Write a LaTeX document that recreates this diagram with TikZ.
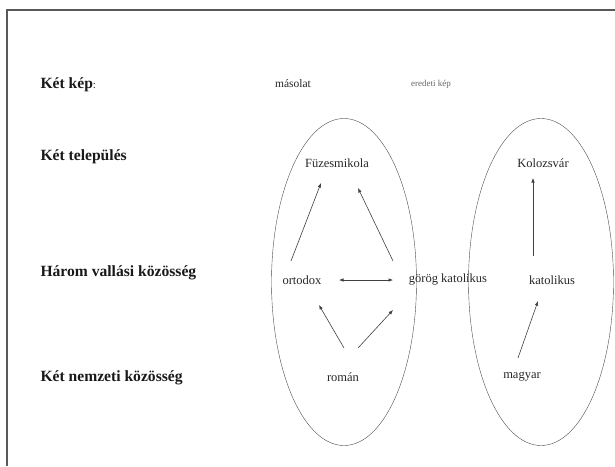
\documentclass[tikz,border=0pt]{standalone}
\usepackage{fontspec}
\setmainfont{Liberation Serif}
\usetikzlibrary{arrows.meta, shapes.geometric}

\begin{document}
\begin{tikzpicture}[
  x=1pt, y=-1pt,
  every node/.style = {font=\fontsize{12.5}{14}\selectfont, text=black!85},
  rowlbl/.style = {font=\fontsize{15.6}{18}\selectfont\bfseries, anchor=west, text=black!90},
  item/.style = {inner sep=1pt},
  oval/.style = {draw=black!70, ellipse, minimum width=145pt, minimum height=327pt, inner sep=0pt},
  arr/.style = {->, black!75, line width=0.6pt},
  >={Latex[length=4.5pt, width=3.5pt]}
]
  \useasboundingbox (0,0) rectangle (615,466);
  \draw[black!65, line width=1.6pt] (7,466) -- (7,10) -- (615,10);

  % row labels
  \node[rowlbl] (rkep) at (37,85) {Két kép\textmd{\fontsize{11}{12}\selectfont :}};
  \node[rowlbl] (rtel) at (37,157) {Két település};
  \node[rowlbl] (rval) at (37,273) {Három vallási közösség};
  \node[rowlbl] (rnem) at (37,378) {Két nemzeti közösség};

  % column headers
  \node[item, font=\fontsize{11.5}{13}\selectfont] (mas) at (293,84) {másolat};
  \node[item, font=\fontsize{9}{10}\selectfont, text=black!60] (ere) at (431,84) {eredeti kép};

  % the two groups
  \node[oval] (ovl) at (344,282) {};
  \node[oval] (ovr) at (541,282) {};

  \node[item] (fuz) at (337,163) {Füzesmikola};
  \node[item] (kol) at (543,163) {Kolozsvár};
  \node[item] (ort) at (302,280) {ortodox};
  \node[item] (gor) at (448,280) {görög katolikus};
  \node[item] (kat) at (552,280) {katolikus};
  \node[item] (rom) at (343,377) {román};
  \node[item] (mag) at (522,377) {magyar};

  \draw[arr] ([shift={(-11,-19)}]ort.center) -- ([shift={(-16,20)}]fuz.center);
  \draw[arr] ([shift={(-55,-19)}]gor.center) -- ([shift={(21,25)}]fuz.center);
  \draw[arr, <->] ([shift={(37,0)}]ort.center) -- ([shift={(-55,0)}]gor.center);
  \draw[arr] ([shift={(1,-29)}]rom.center) -- ([shift={(17,25)}]ort.center);
  \draw[arr] ([shift={(15,-29)}]rom.center) -- ([shift={(-55,30)}]gor.center);
  \draw[arr] ([shift={(-4,-19)}]mag.center) -- ([shift={(-14,21)}]kat.center);
  \draw[arr] ([shift={(-19,-24)}]kat.center) -- ([shift={(-10,15)}]kol.center);
\end{tikzpicture}
\end{document}
